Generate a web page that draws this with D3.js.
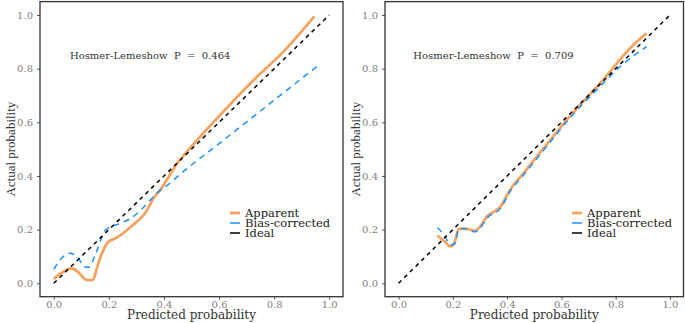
<!DOCTYPE html>
<meta charset="utf-8">
<script src="https://cdn.jsdelivr.net/npm/d3@7"></script>
<style>
  body { margin: 0; background: #fff; }
  text { font-family: "DejaVu Serif", serif; }
</style>
<div id="chart"></div>
<script>
// data
const ticks = [0, 0.2, 0.4, 0.6, 0.8, 1.0];
const seriesNames = ["Apparent", "Bias-corrected", "Ideal"];
const hlLabels = ["Hosmer-Lemeshow  P  =  0.464", "Hosmer-Lemeshow  P  =  0.709"];

// left panel
const appX1 = [0.0, 0.03, 0.065, 0.09, 0.12, 0.14, 0.165, 0.195, 0.23, 0.28, 0.335, 0.364, 0.388, 0.448, 0.5, 0.593, 0.713, 0.84, 0.946];
const appY1 = [0.016, 0.04, 0.056, 0.04, 0.012, 0.012, 0.085, 0.151, 0.171, 0.211, 0.267, 0.32, 0.35, 0.447, 0.51, 0.615, 0.745, 0.87, 0.995];
const biasX1 = [0.0, 0.03, 0.056, 0.085, 0.111, 0.129, 0.15, 0.189, 0.243, 0.279, 0.34, 0.37, 0.42, 0.472, 0.52, 0.593, 0.713, 0.834, 0.966];
const biasY1 = [0.052, 0.095, 0.112, 0.1, 0.062, 0.06, 0.105, 0.199, 0.224, 0.242, 0.298, 0.332, 0.372, 0.418, 0.457, 0.515, 0.612, 0.71, 0.817];

// right panel
const appX2 = [0.143, 0.171, 0.19, 0.204, 0.222, 0.239, 0.282, 0.3, 0.325, 0.376, 0.412, 0.46, 0.54, 0.62, 0.742, 0.865, 0.914];
const appY2 = [0.178, 0.155, 0.137, 0.147, 0.202, 0.205, 0.196, 0.211, 0.248, 0.286, 0.35, 0.41, 0.51, 0.609, 0.745, 0.888, 0.932];
const biasX2 = [0.143, 0.171, 0.19, 0.208, 0.221, 0.24, 0.282, 0.3, 0.325, 0.376, 0.412, 0.46, 0.54, 0.62, 0.742, 0.816, 0.914];
const biasY2 = [0.207, 0.176, 0.143, 0.149, 0.201, 0.203, 0.192, 0.205, 0.242, 0.28, 0.344, 0.403, 0.503, 0.603, 0.733, 0.807, 0.882];
const idealX = [0, 1];
const idealY = [0, 1];

const colors = {"Apparent": "#F4A460", "Bias-corrected": "#1E90FF", "Ideal": "#000000"};

const width = 685, height = 323;
const svg = d3.select("#chart").append("svg")
  .attr("width", width)
  .attr("height", height);

// panel boxes (ggplot style with 5% expansion)
const panels = [
  {x0: 40, x1: 343, app: [appX1, appY1], bias: [biasX1, biasY1], hl: hlLabels[0], leg: 230, yl: 10},
  {x0: 385, x1: 683.5, app: [appX2, appY2], bias: [biasX2, biasY2], hl: hlLabels[1], leg: 572, yl: 355}
];
const panelTop = 1.6, panelBottom = 296.7;

panels.forEach(p => {
  const x = d3.scaleLinear().domain([-0.05, 1.05]).range([p.x0, p.x1]);
  const y = d3.scaleLinear().domain([-0.05, 1.05]).range([panelBottom, panelTop]);
  const g = svg.append("g");

  // axes
  const xa = g.append("g")
    .attr("transform", `translate(0,${panelBottom})`)
    .call(d3.axisBottom(x).tickValues(ticks).tickFormat(d3.format(".1f")).tickSize(3).tickPadding(1));
  const ya = g.append("g")
    .attr("transform", `translate(${p.x0},0)`)
    .call(d3.axisLeft(y).tickValues(ticks).tickFormat(d3.format(".1f")).tickSize(3).tickPadding(4));
  [xa, ya].forEach(a => {
    a.select(".domain").remove();
    a.selectAll(".tick line").attr("stroke", "#555");
    a.selectAll(".tick text")
      .attr("fill", "#7f7f7f")
      .style("font-family", "'DejaVu Serif', serif")
      .style("font-size", "10px");
  });

  const line = d3.line().x(d => x(d[0])).y(d => y(d[1])).curve(d3.curveMonotoneX);
  const zip = (xs, ys) => xs.map((v, i) => [v, ys[i]]);

  g.append("path")
    .attr("d", line(zip(p.app[0], p.app[1])))
    .attr("fill", "none")
    .attr("stroke", colors["Apparent"])
    .attr("stroke-width", 2.8);
  g.append("path")
    .attr("d", line(zip(p.bias[0], p.bias[1])))
    .attr("fill", "none")
    .attr("stroke", colors["Bias-corrected"])
    .attr("stroke-width", 1.5)
    .attr("stroke-dasharray", "6,5");
  g.append("path")
    .attr("d", d3.line().x(d => x(d[0])).y(d => y(d[1]))(zip(idealX, idealY)))
    .attr("fill", "none")
    .attr("stroke", colors["Ideal"])
    .attr("stroke-width", 1.5)
    .attr("stroke-dasharray", "4,4");

  // panel border
  g.append("rect")
    .attr("x", p.x0).attr("y", panelTop)
    .attr("width", p.x1 - p.x0).attr("height", panelBottom - panelTop)
    .attr("fill", "none")
    .attr("stroke", "#333")
    .attr("stroke-width", 1.3);

  // HL annotation
  g.append("text")
    .attr("x", x(0.35)).attr("y", y(0.85))
    .attr("text-anchor", "middle")
    .attr("dy", "0.35em")
    .attr("fill", "#333")
    .style("font-size", "10px")
    .style("white-space", "pre")
    .text(p.hl);

  // legend
  seriesNames.forEach((s, i) => {
    const ly = 213 + i * 10;
    g.append("line")
      .attr("x1", p.leg).attr("x2", p.leg + 10)
      .attr("y1", ly).attr("y2", ly)
      .attr("stroke", colors[s])
      .attr("stroke-width", s === "Apparent" ? 2.8 : 1.5);
    g.append("text")
      .attr("x", p.leg + 15).attr("y", ly)
      .attr("dy", "0.35em")
      .attr("fill", "#222")
      .style("font-size", "11.5px")
      .text(s);
  });

  // axis titles
  g.append("text")
    .attr("x", (p.x0 + p.x1) / 2).attr("y", 319)
    .attr("text-anchor", "middle")
    .attr("fill", "#333")
    .style("font-size", "12px")
    .text("Predicted probability");
  g.append("text")
    .attr("transform", `translate(${p.yl},${(panelTop + panelBottom) / 2}) rotate(-90)`)
    .attr("text-anchor", "middle")
    .attr("dy", "0.35em")
    .attr("fill", "#333")
    .style("font-family", "'Liberation Serif', serif")
    .style("font-size", "13px")
    .text("Actual probability");
});
</script>
